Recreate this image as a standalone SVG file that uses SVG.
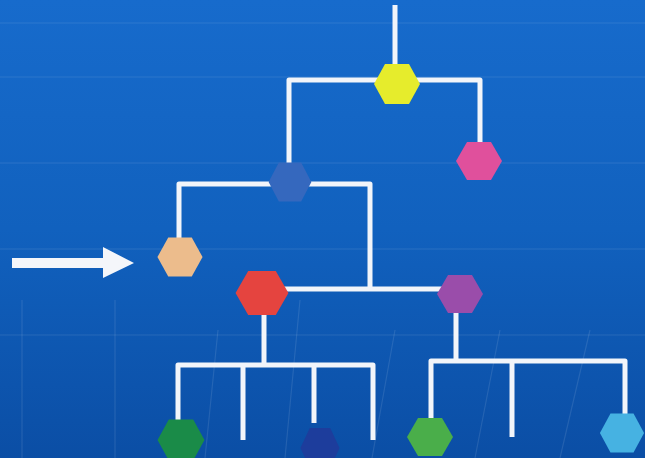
<svg xmlns="http://www.w3.org/2000/svg" width="645" height="458" viewBox="0 0 645 458">
  <defs>
    <linearGradient id="bg" x1="0" y1="0" x2="0" y2="1">
      <stop offset="0" stop-color="#176bcc"/>
      <stop offset="0.5" stop-color="#1161be"/>
      <stop offset="1" stop-color="#0b4ea5"/>
    </linearGradient>
    <path id="hex" d="M-23,0 L-12,-20 L12,-20 L23,0 L12,20 L-12,20 Z"/>
    <style>
      .wire { fill: none; stroke: #f2f5fa; stroke-width: 5; stroke-linejoin: round; stroke-linecap: butt; }
      .grid { stroke: #ffffff; stroke-opacity: 0.1; stroke-width: 1.2; fill: none; }
      .arrow { fill: #f4f6fa; }
    </style>
  </defs>

  <rect x="0" y="0" width="645" height="458" fill="url(#bg)"/>
  <g id="background-lines">
    <path class="grid" d="M0,23 H645 M0,77 H645 M0,163 H645 M0,249 H645 M0,335 H645"/>
    <path class="grid" d="M22,300 V458 M115,300 V458 M218,330 L205,458 M300,300 L285,458 M395,330 L372,458 M500,330 L475,458 M590,330 L560,458" stroke-opacity="0.05"/>
  </g>

  <g id="connectors">
    <path class="wire" d="M395,5 V66"/>
    <path class="wire" d="M289,164 V80 H480 V143"/>
    <path class="wire" d="M179,238 V184 H370 V289"/>
    <path class="wire" d="M262,289 H460"/>
    <path class="wire" d="M264,312 V365"/>
    <path class="wire" d="M178,421 V365 H373 V440"/>
    <path class="wire" d="M243,365 V440"/>
    <path class="wire" d="M314,365 V423"/>
    <path class="wire" d="M456,312 V361"/>
    <path class="wire" d="M431,419 V361 H625 V415"/>
    <path class="wire" d="M512,361 V437"/>
    <path class="arrow" d="M12,258 H103 V247 L134,263 L103,278 V268 H12 Z"/>
  </g>

  <g id="node-yellow"><use href="#hex" transform="translate(397,84)" fill="#e6ec2c"/></g>
  <g id="node-pink"><use href="#hex" transform="translate(479,161) scale(1,0.95)" fill="#e0509c"/></g>
  <g id="node-blue"><use href="#hex" transform="translate(290,182) scale(0.93,0.98)" fill="#3568be"/></g>
  <g id="node-orange"><use href="#hex" transform="translate(180,257) scale(0.98,0.98)" fill="#ecbc8c"/></g>
  <g id="node-red"><use href="#hex" transform="translate(262,293) scale(1.15,1.1)" fill="#e5443f"/></g>
  <g id="node-purple"><use href="#hex" transform="translate(460,294) scale(1,0.95)" fill="#9a4daa"/></g>
  <g id="node-darkgreen"><use href="#hex" transform="translate(181,440) scale(1.02,1.02)" fill="#1a8b48"/></g>
  <g id="node-darkblue"><use href="#hex" transform="translate(320,448) scale(0.85,1)" fill="#1d3d9c"/></g>
  <g id="node-green"><use href="#hex" transform="translate(430,437) scale(1,0.95)" fill="#4aae4a"/></g>
  <g id="node-lightblue"><use href="#hex" transform="translate(622,433) scale(0.96,0.98)" fill="#46b2e2"/></g>
</svg>
